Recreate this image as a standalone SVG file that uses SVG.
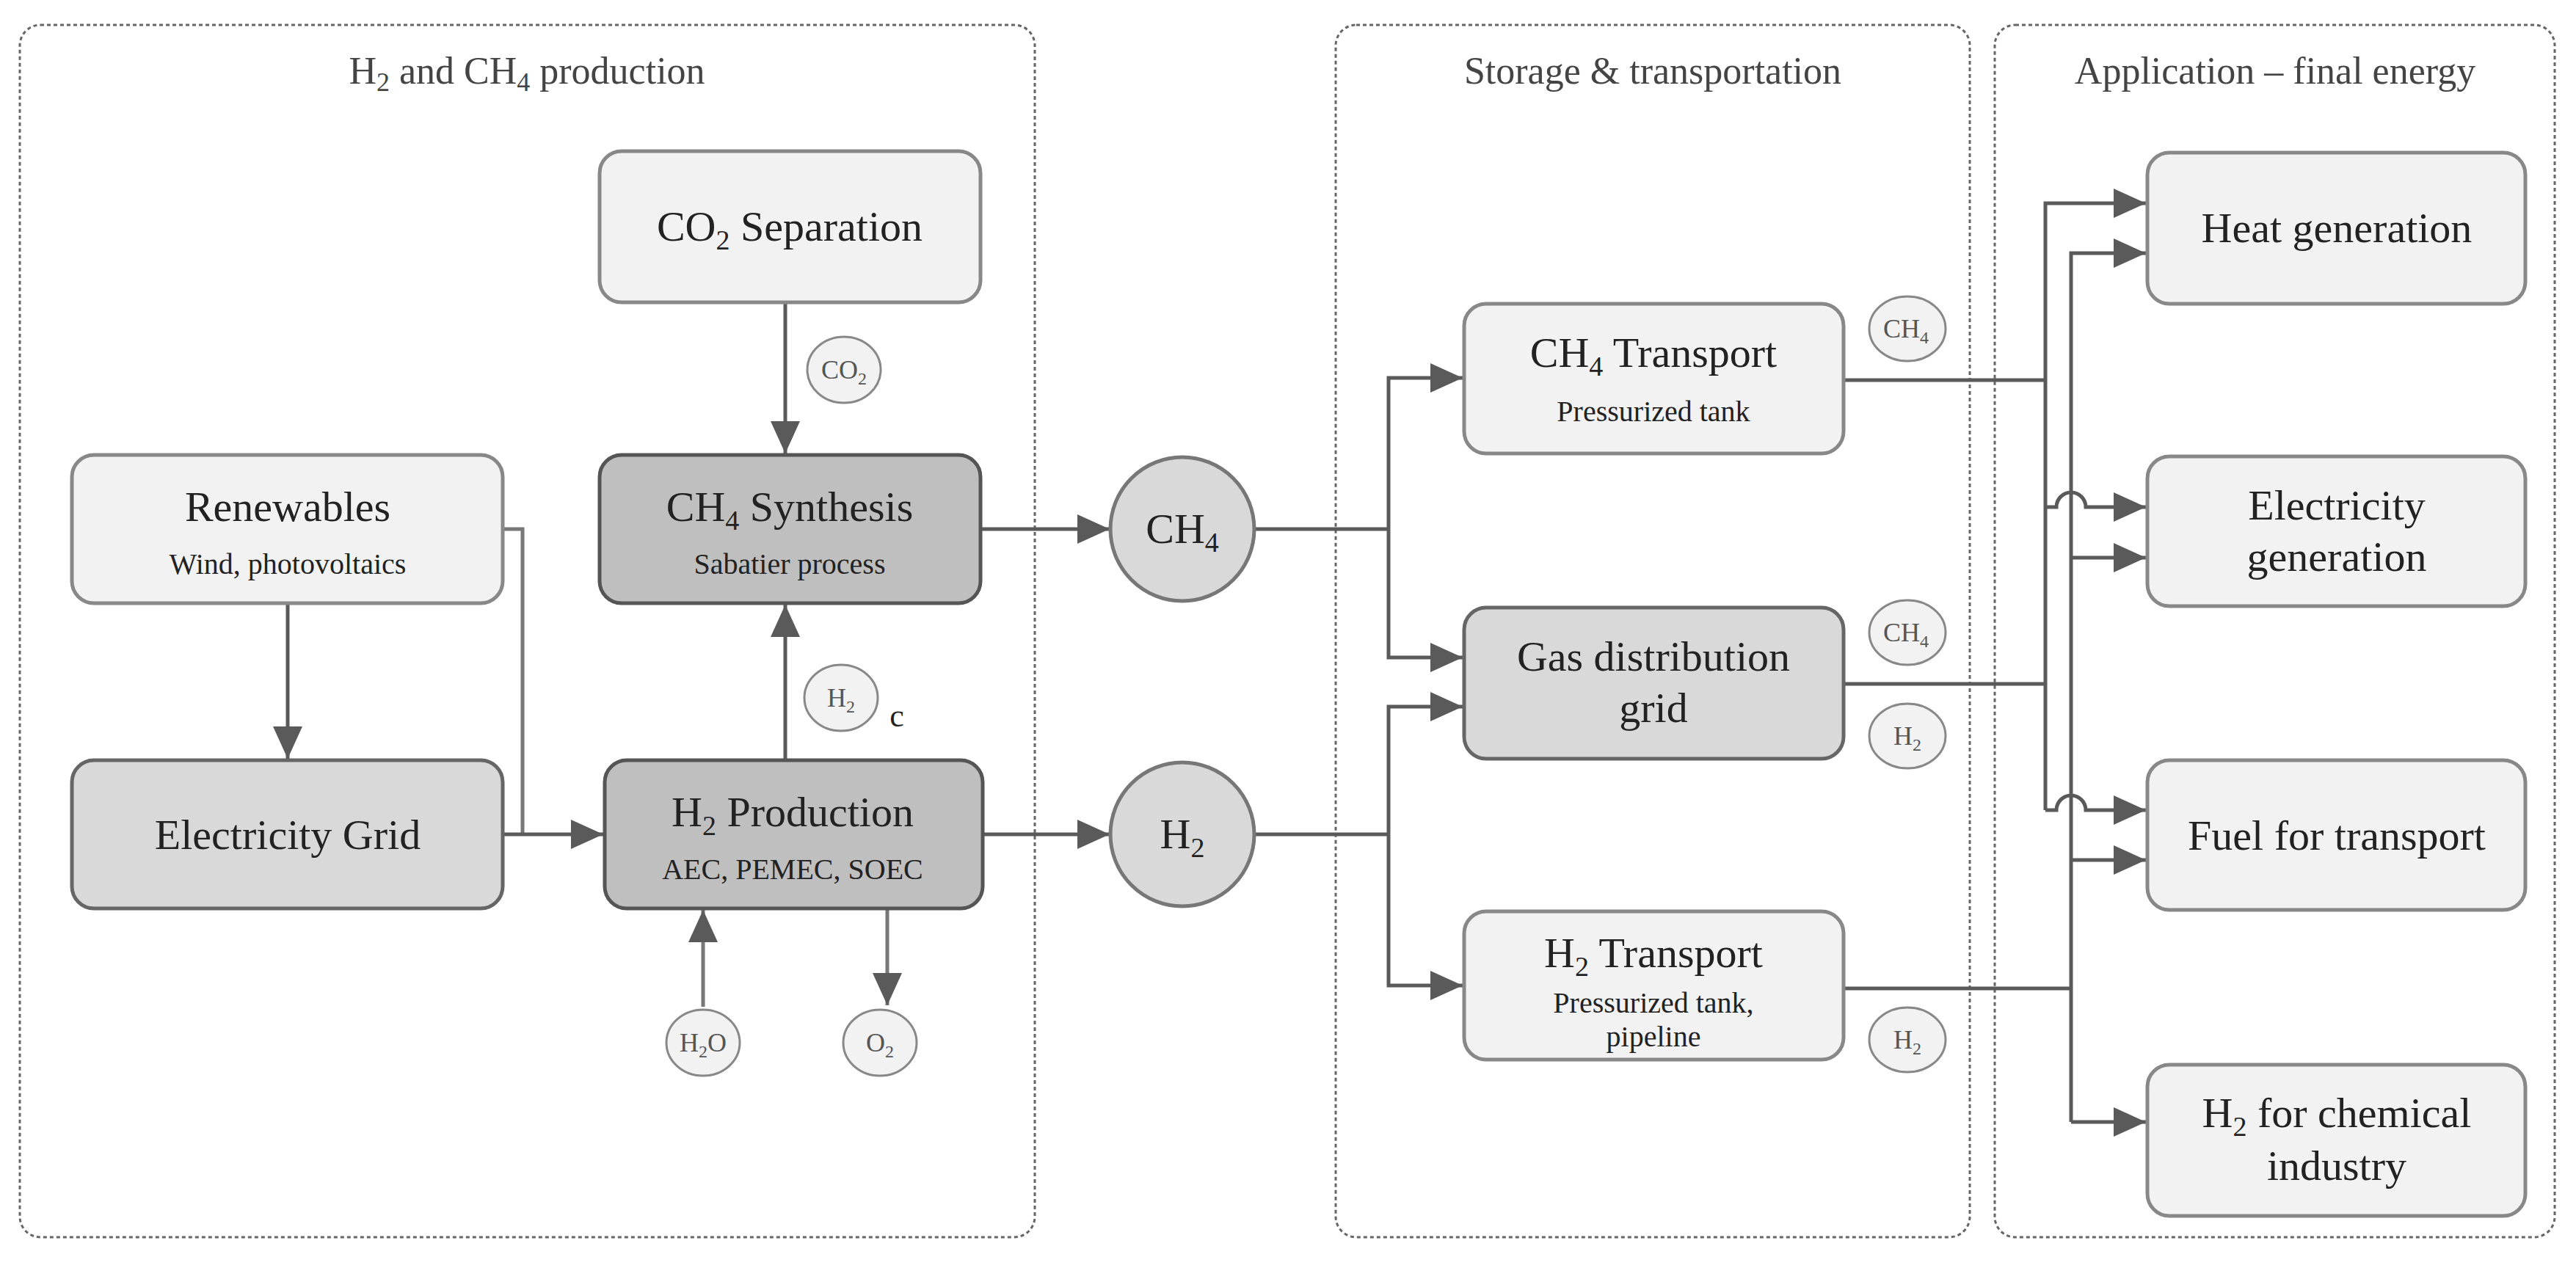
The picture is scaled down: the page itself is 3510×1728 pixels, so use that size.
<svg xmlns="http://www.w3.org/2000/svg" width="3510" height="1728" viewBox="0 0 3510 1728" font-family="'Liberation Serif', 'DejaVu Serif', serif">
<defs>
<marker id="a" viewBox="0 0 10 10" refX="10" refY="5" markerWidth="44" markerHeight="40" markerUnits="userSpaceOnUse" orient="auto" preserveAspectRatio="none"><path d="M0,0 L10,5 L0,10 z" fill="#5a5a5a"/></marker>
<style>
text{font-family:'Liberation Serif','DejaVu Serif',serif;fill:#222;text-anchor:middle}
.panel{fill:none;stroke:#666;stroke-width:3;stroke-dasharray:5 4}
.pt{font-size:52px;fill:#444}
.l{fill:#f2f2f2;stroke:#888;stroke-width:5}
.m{fill:#d9d9d9;stroke:#666;stroke-width:5}
.d{fill:#bfbfbf;stroke:#555;stroke-width:5}
.t{font-size:58px}
.s{font-size:40px}
.c{fill:#f2f2f2;stroke:#888;stroke-width:3}
.cs{font-size:36px;fill:#555}
.big{fill:#d9d9d9;stroke:#777;stroke-width:5}
.ln{fill:none;stroke:#5a5a5a;stroke-width:5}
.lg{fill:none;stroke:#777;stroke-width:5}
</style>
</defs>
<g id="panels">
<rect class="panel" x="27" y="34" width="1383" height="1652" rx="28"/>
<text class="pt" x="718" y="114">H<tspan font-size="36" dy="10">2</tspan><tspan dy="-10"> and CH</tspan><tspan font-size="36" dy="10">4</tspan><tspan dy="-10"> production</tspan></text>
<rect class="panel" x="1820" y="34" width="864" height="1652" rx="28"/>
<text class="pt" x="2252" y="114">Storage &amp; transportation</text>
<rect class="panel" x="2718" y="34" width="763" height="1652" rx="28"/>
<text class="pt" x="3100" y="114">Application – final energy</text>
</g>
<g id="connectors">
<path class="ln" d="M1070,412 V618" marker-end="url(#a)"/>
<path class="ln" d="M1070,1036 V824" marker-end="url(#a)"/>
<path class="ln" d="M392,822 V1034" marker-end="url(#a)"/>
<path class="lg" d="M685,721 H712 V1137"/>
<path class="ln" d="M685,1137 H822" marker-end="url(#a)"/>
<path class="lg" d="M958,1372 V1240" marker-end="url(#a)"/>
<path class="lg" d="M1209,1238 V1370" marker-end="url(#a)"/>
<path class="ln" d="M1336,721 H1512" marker-end="url(#a)"/>
<path class="ln" d="M1339,1137 H1512" marker-end="url(#a)"/>
<path class="ln" d="M1710,721 H1892"/>
<path class="ln" d="M1892,721 V515 H1993" marker-end="url(#a)"/>
<path class="ln" d="M1892,721 V896 H1993" marker-end="url(#a)"/>
<path class="ln" d="M1710,1137 H1892"/>
<path class="ln" d="M1892,1137 V963 H1993" marker-end="url(#a)"/>
<path class="ln" d="M1892,1137 V1343 H1993" marker-end="url(#a)"/>
<path class="ln" d="M2512,518 H2787"/>
<path class="ln" d="M2512,932 H2787"/>
<path class="ln" d="M2512,1347 H2822"/>
<path class="ln" d="M2787,1104 V277 H2924" marker-end="url(#a)"/>
<path class="ln" d="M2787,691 H2802 A20,20 0 0 1 2842,691 H2924" marker-end="url(#a)"/>
<path class="ln" d="M2787,1104 H2802 A20,20 0 0 1 2842,1104 H2924" marker-end="url(#a)"/>
<path class="ln" d="M2822,1529 V345 H2924" marker-end="url(#a)"/>
<path class="ln" d="M2822,760 H2924" marker-end="url(#a)"/>
<path class="ln" d="M2822,1172 H2924" marker-end="url(#a)"/>
<path class="ln" d="M2822,1529 H2924" marker-end="url(#a)"/>
</g>
<g id="co2sep"><rect class="l" x="817" y="206" width="519" height="206" rx="30"/><text class="t" x="1076" y="328">CO<tspan font-size="38" dy="12">2</tspan><tspan dy="-12"> Separation</tspan></text></g>
<g id="ch4syn"><rect class="d" x="817" y="620" width="519" height="202" rx="30"/><text class="t" x="1076" y="710">CH<tspan font-size="38" dy="12">4</tspan><tspan dy="-12"> Synthesis</tspan></text><text class="s" x="1076" y="782">Sabatier process</text></g>
<g id="renew"><rect class="l" x="98" y="620" width="587" height="202" rx="30"/><text class="t" x="392" y="710">Renewables</text><text class="s" x="392" y="782">Wind, photovoltaics</text></g>
<g id="egrid"><rect class="m" x="98" y="1036" width="587" height="202" rx="30"/><text class="t" x="392" y="1157">Electricity Grid</text></g>
<g id="h2prod"><rect class="d" x="824" y="1036" width="515" height="202" rx="30"/><text class="t" x="1080" y="1126">H<tspan font-size="38" dy="12">2</tspan><tspan dy="-12"> Production</tspan></text><text class="s" x="1080" y="1198">AEC, PEMEC, SOEC</text></g>
<g id="co2c"><ellipse class="c" cx="1150" cy="504" rx="50" ry="45"/><text class="cs" x="1150" y="516">CO<tspan font-size="24" dy="8">2</tspan></text></g>
<g id="h2c"><ellipse class="c" cx="1146" cy="951" rx="50" ry="45"/><text class="cs" x="1146" y="963">H<tspan font-size="24" dy="8">2</tspan></text><text x="1222" y="990" font-size="44" fill="#444">c</text></g>
<g id="h2oc"><ellipse class="c" cx="958" cy="1421" rx="50" ry="45"/><text class="cs" x="958" y="1433">H<tspan font-size="24" dy="8">2</tspan><tspan dy="-8">O</tspan></text></g>
<g id="o2c"><ellipse class="c" cx="1199" cy="1421" rx="50" ry="45"/><text class="cs" x="1199" y="1433">O<tspan font-size="24" dy="8">2</tspan></text></g>
<g id="ch4big"><circle class="big" cx="1611" cy="721" r="98"/><text class="t" x="1611" y="740">CH<tspan font-size="38" dy="12">4</tspan></text></g>
<g id="h2big"><circle class="big" cx="1611" cy="1137" r="98"/><text class="t" x="1611" y="1156">H<tspan font-size="38" dy="12">2</tspan></text></g>
<g id="ch4tr"><rect class="l" x="1995" y="414" width="517" height="204" rx="30"/><text class="t" x="2253" y="500">CH<tspan font-size="38" dy="12">4</tspan><tspan dy="-12"> Transport</tspan></text><text class="s" x="2253" y="574">Pressurized tank</text></g>
<g id="gasgrid"><rect class="m" x="1995" y="828" width="517" height="206" rx="30"/><text class="t" x="2253" y="914">Gas distribution</text><text class="t" x="2253" y="984">grid</text></g>
<g id="h2tr"><rect class="l" x="1995" y="1242" width="517" height="202" rx="30"/><text class="t" x="2253" y="1318">H<tspan font-size="38" dy="12">2</tspan><tspan dy="-12"> Transport</tspan></text><text class="s" x="2253" y="1380">Pressurized tank,</text><text class="s" x="2253" y="1426">pipeline</text></g>
<g id="lab1"><ellipse class="c" cx="2599" cy="448" rx="52" ry="44"/><text class="cs" x="2597" y="460">CH<tspan font-size="24" dy="8">4</tspan></text></g>
<g id="lab2"><ellipse class="c" cx="2599" cy="862" rx="52" ry="44"/><text class="cs" x="2597" y="874">CH<tspan font-size="24" dy="8">4</tspan></text></g>
<g id="lab3"><ellipse class="c" cx="2599" cy="1003" rx="52" ry="44"/><text class="cs" x="2599" y="1015">H<tspan font-size="24" dy="8">2</tspan></text></g>
<g id="lab4"><ellipse class="c" cx="2599" cy="1417" rx="52" ry="44"/><text class="cs" x="2599" y="1429">H<tspan font-size="24" dy="8">2</tspan></text></g>
<g id="heat"><rect class="l" x="2926" y="208" width="515" height="206" rx="30"/><text class="t" x="3184" y="330">Heat generation</text></g>
<g id="elec"><rect class="l" x="2926" y="622" width="515" height="204" rx="30"/><text class="t" x="3184" y="708">Electricity</text><text class="t" x="3184" y="778">generation</text></g>
<g id="fuel"><rect class="l" x="2926" y="1036" width="515" height="204" rx="30"/><text class="t" x="3184" y="1158">Fuel for transport</text></g>
<g id="chem"><rect class="l" x="2926" y="1451" width="515" height="206" rx="30"/><text class="t" x="3184" y="1536">H<tspan font-size="38" dy="12">2</tspan><tspan dy="-12"> for chemical</tspan></text><text class="t" x="3184" y="1608">industry</text></g>
</svg>
